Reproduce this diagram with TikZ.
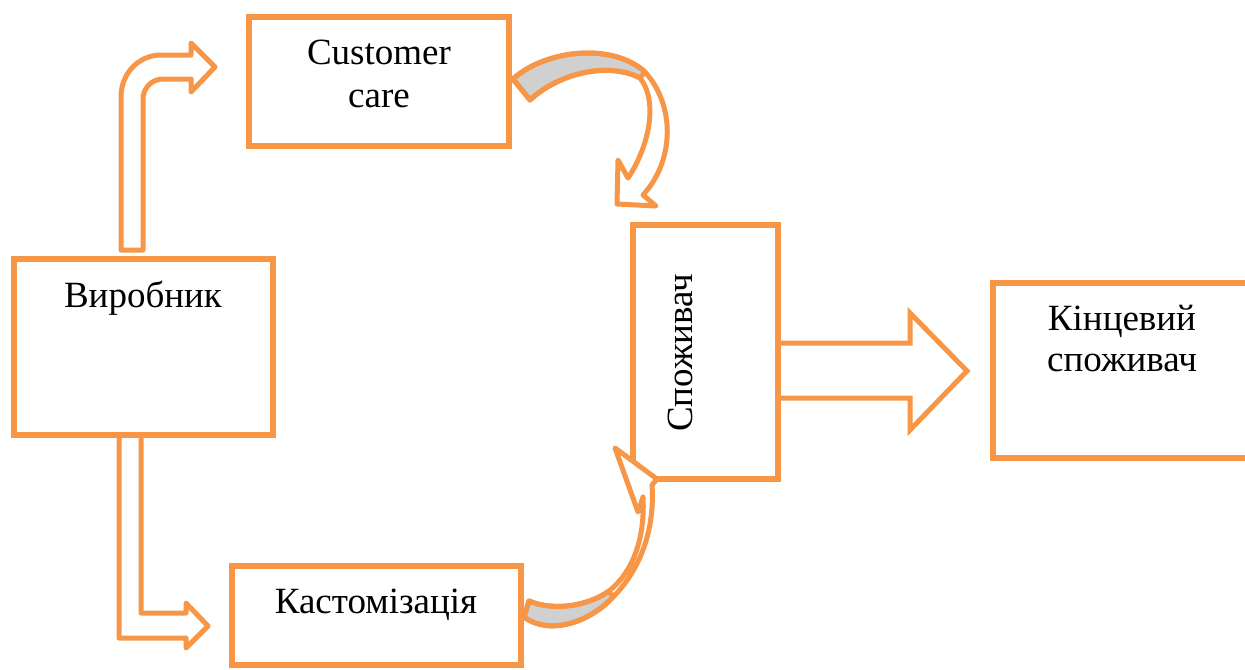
\documentclass[tikz,border=0pt]{standalone}
\usepackage{fontspec}
\setmainfont{Liberation Serif}
\definecolor{accent}{HTML}{F79646}
\definecolor{twistgray}{RGB}{208,208,208}
\tikzset{
  box/.style={draw=accent, line width=2.8pt, fill=white, inner sep=0pt, outer sep=0pt},
  blockarrow/.style={draw=accent, line width=2.5pt, fill=white, line join=round},
  ribbon/.style={draw=accent, line width=2.5pt, line join=round},
  twistface/.style={fill=twistgray, draw=accent, line width=2.5pt, line join=round},
  lbl/.style={font=\fontsize{18.5}{21.5}\selectfont, inner sep=0pt, anchor=base},
}
\begin{document}
\begin{tikzpicture}[x=0.5pt,y=-0.5pt]
\clip (0,0) rectangle (1245,669);
\fill[white] (0,0) rectangle (1245,669);

% bent arrow rising from the producer to customer care
\draw[blockarrow] (121,250) -- (121,97) .. controls (121,73) and (139,55) .. (161,55)
  -- (191,55) -- (191,43) -- (215,67) -- (191,92) -- (191,79) -- (163,79)
  .. controls (152,79) and (143,88) .. (143,99) -- (143,250) -- cycle;

% bent arrow going down from the producer to customisation
\draw[blockarrow] (119,430) -- (119,638) -- (186,638) -- (186,648) -- (208,626)
  -- (186,603) -- (186,613) -- (141,613) -- (141,430) -- cycle;

% wide arrow towards the end consumer
\draw[blockarrow, line join=miter] (770,343) -- (910,343) -- (910,313) -- (967,371)
  -- (910,430) -- (910,398) -- (770,398);

% boxes
\node[box, minimum width=130pt, minimum height=64.5pt] (cc) at (379,81.5) {};
\node[box, minimum width=129.5pt, minimum height=88pt] (vyr) at (143.5,347) {};
\node[box, minimum width=144.5pt, minimum height=49.5pt] (kast) at (376.5,615.5) {};
\node[box, minimum width=72.5pt, minimum height=127pt] (spoz) at (705.5,352) {};
\node[box, minimum width=131pt, minimum height=87.5pt] (kinc) at (1124,370.5) {};

% labels
\node[lbl] (cc1) at (379,64) {Customer};
\node[lbl] (cc2) at (379,107) {care};
\node[lbl] (vyrt) at (143,307) {Виробник};
\node[lbl] (kastt) at (376,613) {Кастомізація};
\node[lbl, rotate=90] (spozt) at (692,353) {Споживач};
\node[lbl] (kinc1) at (1122,330) {Кінцевий};
\node[lbl] (kinc2) at (1122,371) {споживач};

% curved arrow from customer care down to the consumer
\fill[white] (513,79) .. controls (545,50) and (612,42) .. (645,72)
  .. controls (675,105) and (675,160) .. (643,195) -- (656,206) -- (617,204)
  -- (618,160) -- (628,178) .. controls (650,145) and (658,100) .. (640,78)
  .. controls (610,62) and (560,72) .. (530,100) -- cycle;
\draw[twistface] (513,79) .. controls (545,50) and (612,42) .. (645,72) -- (640,78)
  .. controls (610,62) and (560,72) .. (530,100) -- cycle;
\draw[ribbon] (513,79) .. controls (545,50) and (612,42) .. (645,72)
  .. controls (675,105) and (675,160) .. (643,195) -- (656,206) -- (617,204)
  -- (618,160) -- (628,178) .. controls (650,145) and (658,100) .. (640,78)
  .. controls (610,62) and (560,72) .. (530,100) -- cycle;

% curved arrow from customisation up to the consumer
\fill[white] (524,617) .. controls (550,636) and (590,622) .. (613,597)
  .. controls (640,570) and (655,530) .. (652,485) -- (657,479) -- (615,448)
  -- (638,512) -- (643,497) .. controls (645,535) and (635,570) .. (609,591)
  .. controls (590,605) and (555,612) .. (529,601) -- cycle;
\draw[twistface] (524,617) .. controls (550,636) and (590,622) .. (613,597) -- (609,591)
  .. controls (590,605) and (555,612) .. (529,601) -- cycle;
\draw[ribbon] (524,617) .. controls (550,636) and (590,622) .. (613,597)
  .. controls (640,570) and (655,530) .. (652,485) -- (657,479) -- (615,448)
  -- (638,512) -- (643,497) .. controls (645,535) and (635,570) .. (609,591)
  .. controls (590,605) and (555,612) .. (529,601) -- cycle;
\end{tikzpicture}
\end{document}
